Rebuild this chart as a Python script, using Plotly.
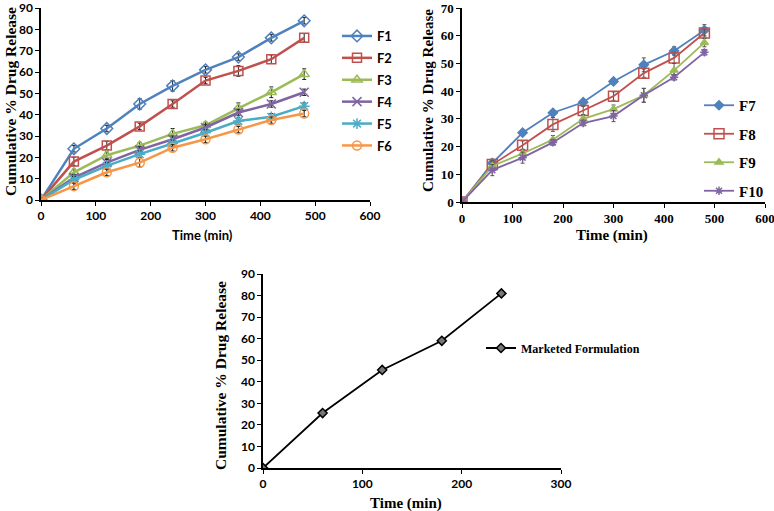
import plotly.graph_objects as go

# time points (min)
time = [0, 60, 120, 180, 240, 300, 360, 420, 480]
time_mkt = [0, 60, 120, 180, 240]

# panel 1: F1-F6
f1 = [0, 24, 33.5, 45, 53.5, 61, 67, 76, 84]
f2 = [0, 18, 25.5, 34.5, 45, 56, 60.5, 66, 76]
f3 = [0, 13, 21, 25.5, 31, 35, 43, 50.5, 59]
f4 = [0, 10.5, 17.5, 23.5, 28.5, 34, 41, 45, 50.5]
f5 = [0, 9.5, 16, 21.5, 26.5, 31.5, 37, 39, 44]
f6 = [0, 6.5, 13, 17.5, 24.5, 28.5, 33, 37.5, 40.5]
e1 = [0, 1.5, 1.5, 2.5, 2.5, 1.5, 1.5, 1.5, 1.5]
e2 = [0, 2, 2, 1.5, 1.5, 1.5, 2.5, 2, 2]
e3 = [0, 1.5, 1.5, 1.5, 2.5, 1.5, 2.5, 2.5, 2.5]
e4 = [0, 1.5, 1.5, 1.5, 1.5, 1.5, 1.5, 1.5, 1.5]
e5 = [0, 1.5, 1.5, 1.5, 1.5, 1.5, 1.5, 1.5, 1.5]
e6 = [0, 1.5, 1.5, 2, 1.5, 1.5, 1.5, 1.5, 1.5]

# panel 2: F7-F10
f7 = [0, 14, 25, 32.2, 36, 43.5, 49.5, 54.5, 62]
f8 = [0, 13.5, 20.5, 28, 33, 38.2, 46.5, 52, 61]
f9 = [0, 13, 17.5, 22.5, 30, 33.5, 38.5, 47.5, 57.5]
f10 = [0, 11.5, 16, 21.5, 28.5, 31, 38.5, 45, 54]
e7 = [0, 1.5, 1, 1, 1, 1, 2.5, 1.5, 2]
e8 = [0, 1.5, 1.5, 2.5, 1.5, 1.5, 1.5, 2, 1.5]
e9 = [0, 1.5, 1.5, 1.5, 1.5, 1.5, 2.5, 2.5, 1.5]
e10 = [0, 2, 2, 1, 1, 2, 2.5, 1, 1]

# panel 3: marketed formulation
mkt = [0, 25.5, 45.5, 59, 81]

W, H = 774, 511
CAL = "Lato"
TNR = "Liberation Serif"

BLUE = "#4F81BD"
RED = "#C0504D"
GREEN = "#9BBB59"
PURPLE = "#8064A2"
CYAN = "#4BACC6"
ORANGE = "#F79646"


def dx(a, b):
    return [a / W, b / W]


def dy(top, bottom):
    return [1 - bottom / H, 1 - top / H]


fig = go.Figure()

p1 = [("F1", f1, e1, BLUE, "diamond-open"),
      ("F2", f2, e2, RED, "square-open"),
      ("F3", f3, e3, GREEN, "triangle-up-open"),
      ("F4", f4, e4, PURPLE, "x-thin-open"),
      ("F5", f5, e5, CYAN, "asterisk-open"),
      ("F6", f6, e6, ORANGE, "circle-open")]
for name, y, e, c, sym in p1:
    fig.add_trace(go.Scatter(
        x=time, y=y, name=name, mode="lines+markers",
        line=dict(color=c, width=2.5),
        marker=dict(symbol=sym, size=9, color=c, line=dict(color=c, width=1.5)),
        error_y=dict(type="data", array=e, color="#222", thickness=1, width=2),
        xaxis="x", yaxis="y", legend="legend", legendgroup=name,
    ))

p2 = [("F7", f7, e7, BLUE, "diamond"),
      ("F8", f8, e8, RED, "square-open"),
      ("F9", f9, e9, GREEN, "triangle-up"),
      ("F10", f10, e10, PURPLE, "asterisk-open")]
for name, y, e, c, sym in p2:
    fig.add_trace(go.Scatter(
        x=time, y=y, name=name, mode="lines+markers",
        line=dict(color=c, width=1.8),
        marker=dict(symbol=sym, size=7 if sym != "square-open" else 10,
                    color=c, line=dict(color=c, width=1.5)),
        error_y=dict(type="data", array=e, color="#555", thickness=1, width=2),
        xaxis="x2", yaxis="y2", legend="legend2", legendgroup=name,
    ))

fig.add_trace(go.Scatter(
    x=time_mkt, y=mkt, name="Marketed Formulation", mode="lines+markers",
    line=dict(color="black", width=1.8),
    marker=dict(symbol="diamond", size=7, color="#777", line=dict(color="black", width=1.5)),
    xaxis="x3", yaxis="y3", legend="legend3",
))

axis_common = dict(showgrid=False, zeroline=False, showline=True, linecolor="black",
                   linewidth=1.5, ticks="outside", ticklen=4, tickcolor="black",
                   automargin=False, ticklabeloverflow="allow")

fig.update_layout(
    width=W, height=H, margin=dict(l=0, r=0, t=0, b=0),
    plot_bgcolor="white", paper_bgcolor="white",
    xaxis=dict(domain=dx(41, 370), range=[0, 600], dtick=100, anchor="y",
               tickfont=dict(family=CAL, size=12, color="black", weight="bold"), **axis_common),
    yaxis=dict(domain=dy(8, 200), range=[0, 90], dtick=10, anchor="x",
               tickfont=dict(family=CAL, size=12, color="black", weight="bold"), **axis_common),
    xaxis2=dict(domain=dx(462, 765), range=[0, 600], dtick=100, anchor="y2",
                tickfont=dict(family=TNR, size=13, color="black", weight="bold"), **axis_common),
    yaxis2=dict(domain=dy(8, 202), range=[0, 70], dtick=10, anchor="x2",
                tickfont=dict(family=TNR, size=13, color="black", weight="bold"), **axis_common),
    xaxis3=dict(domain=dx(263, 561), range=[0, 300], dtick=100, anchor="y3",
                tickfont=dict(family=CAL, size=12, color="black", weight="bold"), **axis_common),
    yaxis3=dict(domain=dy(274, 468), range=[0, 90], dtick=10, anchor="x3",
                tickfont=dict(family=CAL, size=12, color="black", weight="bold"), **axis_common),
    legend=dict(x=337 / W, y=1 - 21 / H, xanchor="left", yanchor="top",
                font=dict(family=CAL, size=13, color="black", weight="bold"),
                itemwidth=30, tracegroupgap=2, bgcolor="rgba(0,0,0,0)"),
    legend2=dict(x=699 / W, y=1 - 89 / H, xanchor="left", yanchor="top",
                 font=dict(family=TNR, size=15, color="black", weight="bold"),
                 itemwidth=30, tracegroupgap=6, bgcolor="rgba(0,0,0,0)"),
    legend3=dict(x=481 / W, y=1 - 348 / H, xanchor="left", yanchor="middle",
                 font=dict(family=TNR, size=12, color="black", weight="bold"),
                 itemwidth=30, bgcolor="rgba(0,0,0,0)"),
)

ytitle = "Cumulative % Drug Release"
ann = [
    (10, 102, ytitle, TNR, 15.5, -90),
    (428, 100, ytitle, TNR, 15, -90),
    (220, 376, ytitle, TNR, 15.5, -90),
    (202, 235, "Time (min)", CAL, 13, 0),
    (612, 235, "Time (min)", TNR, 15, 0),
    (406, 503, "Time (min)", TNR, 15, 0),
]
for x, y, t, fam, sz, ang in ann:
    fig.add_annotation(x=x / W, y=1 - y / H, xref="paper", yref="paper", text=t,
                       showarrow=False, textangle=ang, xanchor="center", yanchor="middle",
                       font=dict(family=fam, size=sz, color="black", weight="bold"))

# drop the browser's default 8px body margin so the figure fills the window
fig.write_html("out.html", config={"displayModeBar": False},
               post_script="document.body.style.margin='0';")
